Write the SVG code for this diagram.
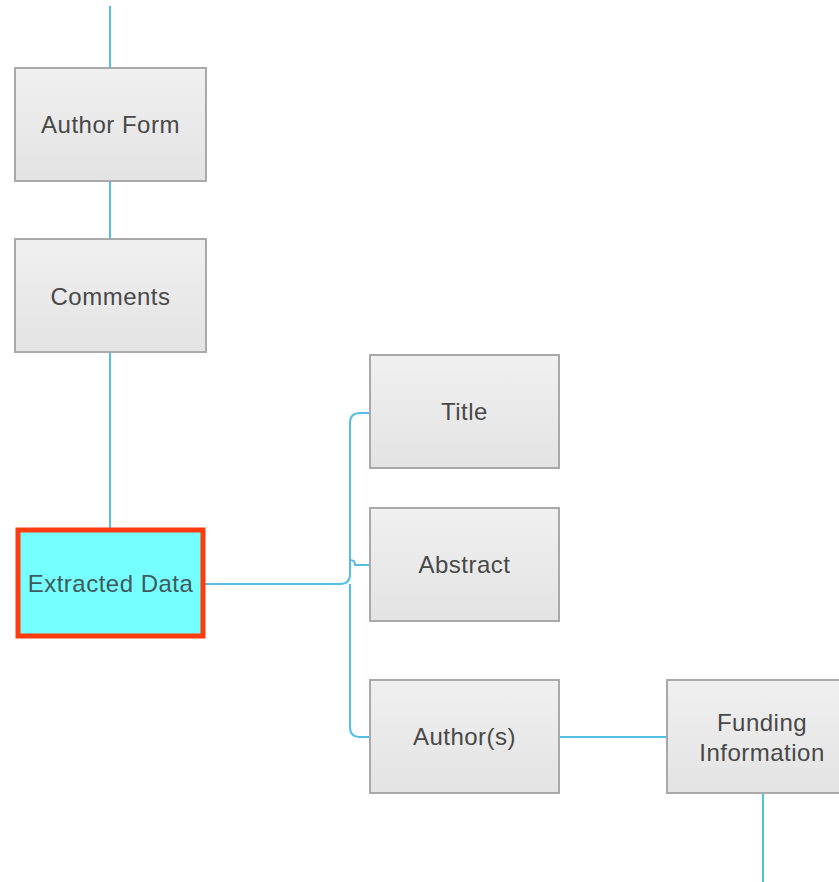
<svg xmlns="http://www.w3.org/2000/svg" width="839" height="882" viewBox="0 0 839 882">
<defs>
<linearGradient id="g" x1="0" y1="0" x2="0" y2="1">
<stop offset="0" stop-color="#f0f0f0"/>
<stop offset="1" stop-color="#e3e3e3"/>
</linearGradient>
</defs>
<style>
.box{fill:url(#g);stroke:#a9a9a9;stroke-width:2}
.sel{fill:#75ffff;stroke:#ff3c0f;stroke-width:5}
.t{font-family:"Liberation Sans",Arial,sans-serif;font-size:24px;letter-spacing:0.5px;fill:#484848;text-anchor:middle}
.c{fill:none;stroke:#55bfe3;stroke-width:2}
</style>
<rect width="839" height="882" fill="#ffffff"/>
<g id="connectors">
<path class="c" d="M110,6 V68"/>
<path class="c" d="M110,181 V239"/>
<path class="c" d="M110,352 V528"/>
<path class="c" d="M204,584 H340 Q350,584 350,574 V423 Q350,413 360,413 H370"/>
<path class="c" d="M350,560 Q355,560 355,565 H370"/>
<path class="c" d="M350,584 V727 Q350,737 360,737 H370"/>
<path class="c" d="M559,737 H667"/>
<path class="c" d="M763,793 V882"/>
</g>
<g id="author-form"><rect class="box" x="15" y="68" width="191" height="113"/><text class="t" x="110.5" y="133">Author Form</text></g>
<g id="comments"><rect class="box" x="15" y="239" width="191" height="113"/><text class="t" x="110.5" y="305">Comments</text></g>
<g id="extracted-data"><rect class="sel" x="18" y="530" width="185" height="106"/><text class="t" x="110.5" y="592" fill="#3d5c5c" style="fill:#3f5a5a">Extracted Data</text></g>
<g id="title"><rect class="box" x="370" y="355" width="189" height="113"/><text class="t" x="464.5" y="420">Title</text></g>
<g id="abstract"><rect class="box" x="370" y="508" width="189" height="113"/><text class="t" x="464.5" y="573">Abstract</text></g>
<g id="authors"><rect class="box" x="370" y="680" width="189" height="113"/><text class="t" x="464.5" y="745">Author(s)</text></g>
<g id="funding-information"><rect class="box" x="667" y="680" width="189" height="113"/><text class="t" x="762" y="731">Funding</text><text class="t" x="762" y="761">Information</text></g>
</svg>
